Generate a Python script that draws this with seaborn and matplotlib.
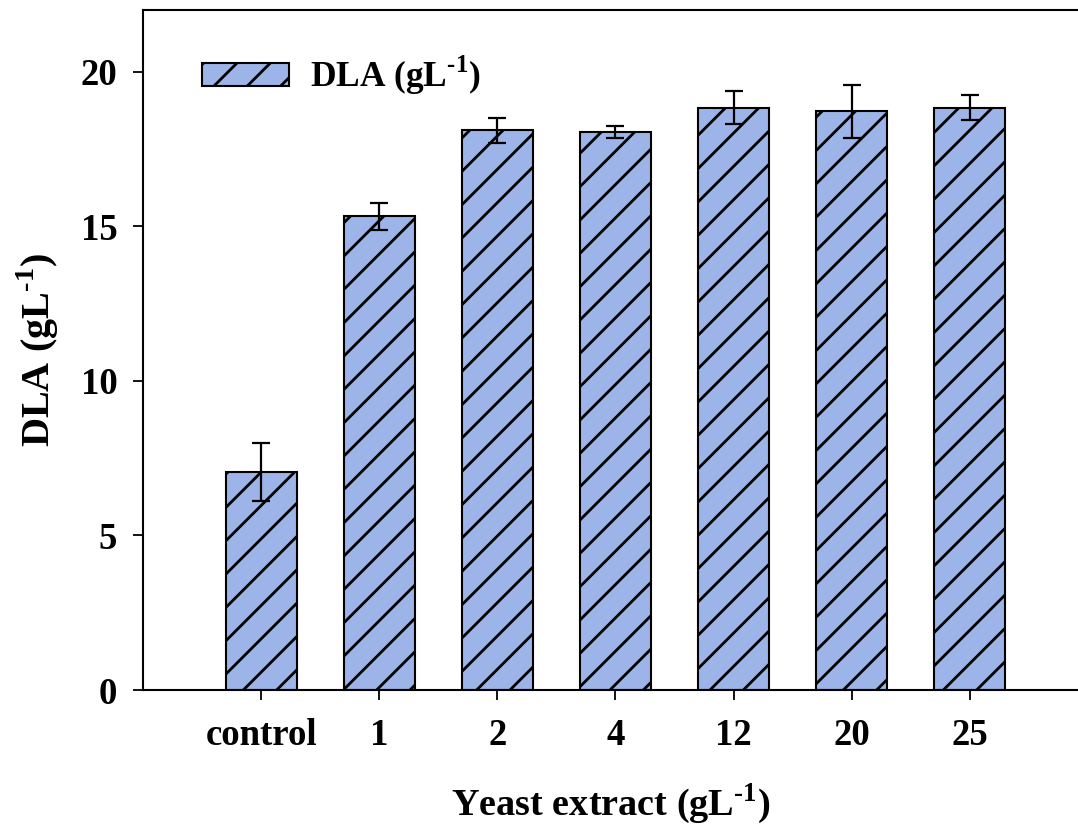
import matplotlib
matplotlib.use("Agg")
import matplotlib.pyplot as plt
import seaborn as sns
import pandas as pd

# Yeast extract concentrations and measured DLA titres
categories = ["control", "1", "2", "4", "12", "20", "25"]
dla_values = [7.05, 15.32, 18.11, 18.06, 18.84, 18.72, 18.84]
dla_errors = [0.95, 0.45, 0.40, 0.20, 0.53, 0.85, 0.40]
y_ticks = [0, 5, 10, 15, 20]

sns.set_theme(style="ticks")
plt.rcParams["font.family"] = ["Liberation Serif", "DejaVu Serif"]
plt.rcParams["font.weight"] = "bold"
plt.rcParams["text.color"] = "black"
plt.rcParams["axes.labelcolor"] = "black"
plt.rcParams["mathtext.fontset"] = "custom"
plt.rcParams["mathtext.rm"] = "Liberation Serif:bold"
plt.rcParams["mathtext.bf"] = "Liberation Serif:bold"
plt.rcParams["hatch.linewidth"] = 2.0

unit = r"(gL$^{\mathbf{\text{-}1}}$)"
df = pd.DataFrame({"condition": categories, "dla": dla_values})

fig = plt.figure(figsize=(10.78, 8.3), dpi=100)
ax = fig.add_axes([143 / 1078, 140 / 830, 935 / 1078, 680 / 830])

sns.barplot(data=df, x="condition", y="dla", order=categories, ax=ax,
            color="#9DB4E8", saturation=1, width=0.6, errorbar=None,
            edgecolor="black", linewidth=1.5, label="DLA " + unit)
for bar in ax.patches:
    bar.set_hatch("/")
    bar.set_edgecolor("black")

ax.errorbar(x=range(len(categories)), y=dla_values, yerr=dla_errors,
            fmt="none", ecolor="black", elinewidth=1.6, capsize=6.2,
            capthick=1.6, zorder=5)

ax.set_xlim(-1, 6.916)
ax.set_ylim(0, 22)
ax.set_yticks(y_ticks)

for side in ["left", "bottom", "top"]:
    ax.spines[side].set_visible(True)
    ax.spines[side].set_linewidth(1.5)
    ax.spines[side].set_color("black")
ax.spines["right"].set_visible(False)

ax.tick_params(axis="both", direction="out", length=7.5, width=1.3,
               colors="black", labelsize=26.5)
ax.tick_params(axis="y", pad=11)
ax.tick_params(axis="x", pad=13)
for lab in ax.get_xticklabels() + ax.get_yticklabels():
    lab.set_fontweight("bold")

ax.set_xlabel("Yeast extract " + unit, fontsize=27.5,
              fontweight="bold", labelpad=20)
ax.set_ylabel("DLA " + unit, fontsize=29,
              fontweight="bold", labelpad=14)

ax.legend(loc="upper left", bbox_to_anchor=(0.063, 0.935),
          frameon=False, borderpad=0, borderaxespad=0,
          handlelength=2.45, handleheight=0.6, handletextpad=0.6,
          prop={"weight": "bold", "size": 25.5})

fig.savefig("out.png", dpi=100, facecolor="white")
